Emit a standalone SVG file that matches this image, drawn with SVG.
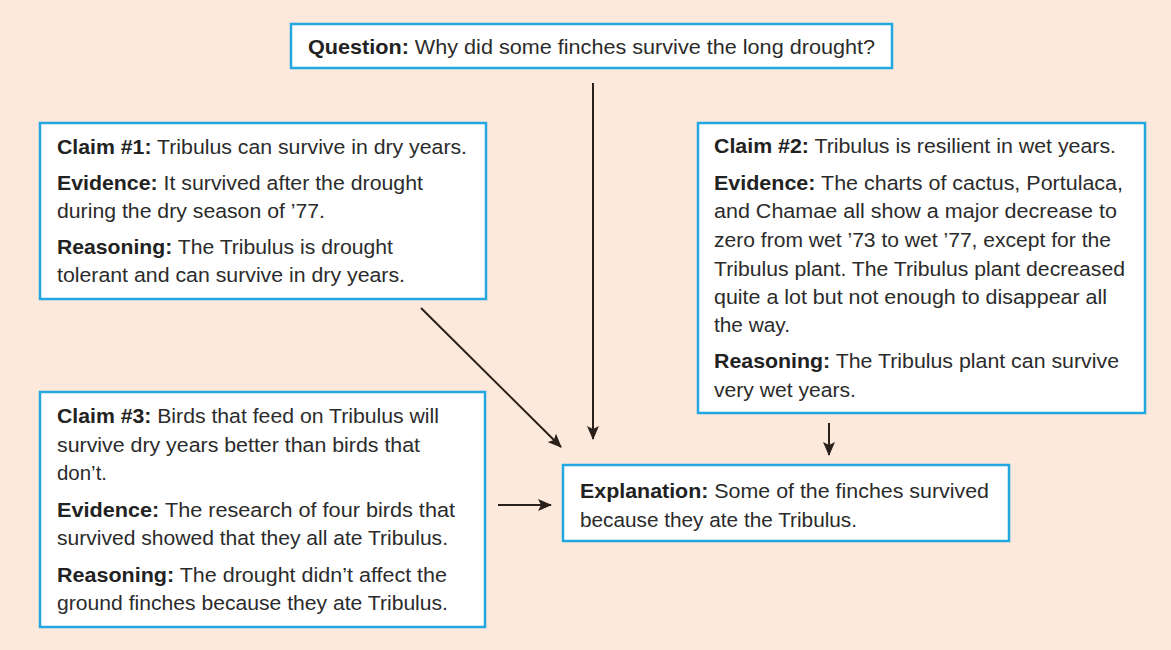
<svg xmlns="http://www.w3.org/2000/svg" width="1171" height="650" viewBox="0 0 1171 650">
<defs>
<style>
.box{fill:#ffffff;stroke:#22a7e0;stroke-width:2.5}
text{font-family:"Liberation Sans",Arial,Helvetica,sans-serif;font-size:20.5px;fill:#2b2b2b}
.b{font-weight:bold;fill:#222222}
.con{stroke:#2a201b;stroke-width:2;fill:none}
</style>
<marker id="ah" markerUnits="userSpaceOnUse" markerWidth="14" markerHeight="12" refX="13" refY="6" orient="auto">
<path d="M0,0 L14,6 L0,12 L3,6 z" fill="#2a201b"/>
</marker>
</defs>
<rect x="0" y="0" width="1171" height="650" fill="#fce9dc"/>

<g id="connectors">
<line class="con" x1="593" y1="83" x2="593" y2="439" marker-end="url(#ah)"/>
<line class="con" x1="421" y1="308" x2="561" y2="447" marker-end="url(#ah)"/>
<line class="con" x1="829" y1="423" x2="829" y2="455" marker-end="url(#ah)"/>
<line class="con" x1="498" y1="505" x2="551" y2="505" marker-end="url(#ah)"/>
</g>

<g id="question">
<rect class="box" x="291" y="24" width="601" height="44"/>
<text x="308" y="54" textLength="567" lengthAdjust="spacingAndGlyphs"><tspan class="b">Question:</tspan>  Why did some finches survive the long drought?</text>
</g>

<g id="claim1">
<rect class="box" x="40" y="123" width="446" height="176"/>
<text x="57" y="154" textLength="410" lengthAdjust="spacingAndGlyphs"><tspan class="b">Claim #1:</tspan> Tribulus can survive in dry years.</text>
<text x="57" y="190" textLength="366" lengthAdjust="spacingAndGlyphs"><tspan class="b">Evidence:</tspan> It survived after the drought</text>
<text x="57" y="218" textLength="268" lengthAdjust="spacingAndGlyphs">during the dry season of ’77.</text>
<text x="57" y="254" textLength="336" lengthAdjust="spacingAndGlyphs"><tspan class="b">Reasoning:</tspan> The Tribulus is drought</text>
<text x="57" y="282" textLength="348" lengthAdjust="spacingAndGlyphs">tolerant and can survive in dry years.</text>
</g>

<g id="claim2">
<rect class="box" x="698" y="123" width="447" height="290"/>
<text x="714" y="153" textLength="402" lengthAdjust="spacingAndGlyphs"><tspan class="b">Claim #2:</tspan> Tribulus is resilient in wet years.</text>
<text x="714" y="190" textLength="409" lengthAdjust="spacingAndGlyphs"><tspan class="b">Evidence:</tspan> The charts of cactus, Portulaca,</text>
<text x="714" y="218" textLength="403" lengthAdjust="spacingAndGlyphs">and Chamae all show a major decrease to</text>
<text x="714" y="247" textLength="397" lengthAdjust="spacingAndGlyphs">zero from wet ’73 to wet ’77, except for the</text>
<text x="714" y="276" textLength="411" lengthAdjust="spacingAndGlyphs">Tribulus plant. The Tribulus plant decreased</text>
<text x="714" y="304" textLength="393" lengthAdjust="spacingAndGlyphs">quite a lot but not enough to disappear all</text>
<text x="714" y="332" textLength="76" lengthAdjust="spacingAndGlyphs">the way.</text>
<text x="714" y="368" textLength="405" lengthAdjust="spacingAndGlyphs"><tspan class="b">Reasoning:</tspan> The Tribulus plant can survive</text>
<text x="714" y="397" textLength="142" lengthAdjust="spacingAndGlyphs">very wet years.</text>
</g>

<g id="claim3">
<rect class="box" x="40" y="392" width="445" height="235"/>
<text x="57" y="423" textLength="382" lengthAdjust="spacingAndGlyphs"><tspan class="b">Claim #3:</tspan> Birds that feed on Tribulus will</text>
<text x="57" y="452" textLength="363" lengthAdjust="spacingAndGlyphs">survive dry years better than birds that</text>
<text x="57" y="480" textLength="50" lengthAdjust="spacingAndGlyphs">don’t.</text>
<text x="57" y="517" textLength="398" lengthAdjust="spacingAndGlyphs"><tspan class="b">Evidence:</tspan>  The research of four birds that</text>
<text x="57" y="545" textLength="391" lengthAdjust="spacingAndGlyphs">survived showed that they all ate Tribulus.</text>
<text x="57" y="582" textLength="390" lengthAdjust="spacingAndGlyphs"><tspan class="b">Reasoning:</tspan>  The drought didn’t affect the</text>
<text x="57" y="610" textLength="391" lengthAdjust="spacingAndGlyphs">ground finches because they ate Tribulus.</text>
</g>

<g id="explanation">
<rect class="box" x="563" y="465" width="446" height="76"/>
<text x="580" y="498" textLength="409" lengthAdjust="spacingAndGlyphs"><tspan class="b">Explanation:</tspan> Some of the finches survived</text>
<text x="580" y="527" textLength="277" lengthAdjust="spacingAndGlyphs">because they ate the Tribulus.</text>
</g>
</svg>
